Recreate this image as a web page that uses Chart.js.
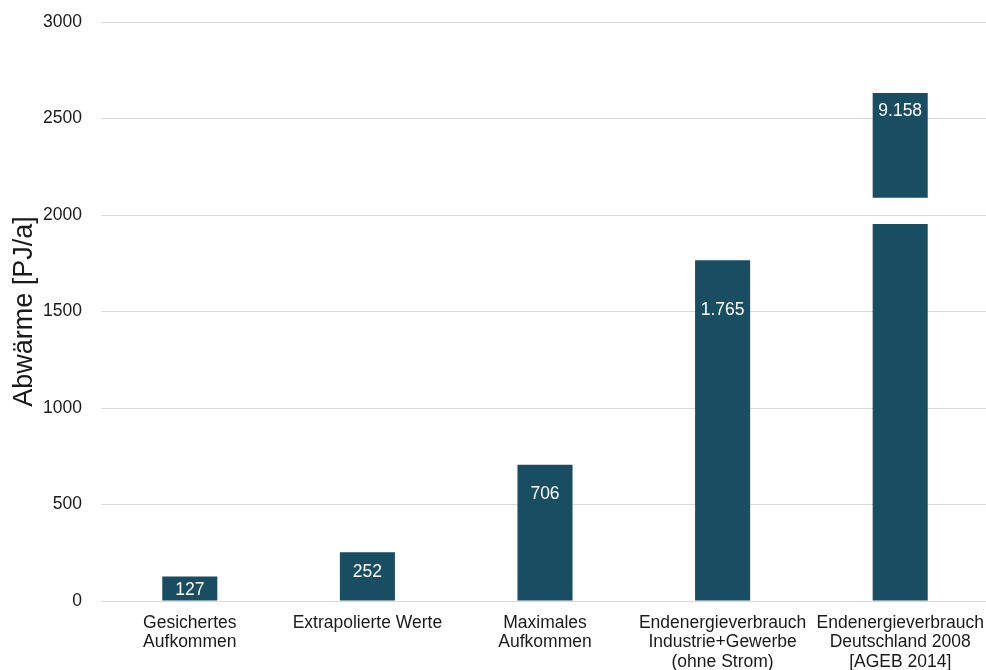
<!DOCTYPE html>
<html lang="de">
<head>
<meta charset="utf-8">
<title>Abwärme</title>
<script src="https://cdn.jsdelivr.net/npm/chart.js@4/dist/chart.umd.min.js"></script>
<style>
  html, body { margin: 0; padding: 0; background: #ffffff; overflow: hidden; }
  #wrap { width: 989px; height: 670px; position: relative; }
</style>
</head>
<body>
<div id="wrap"><canvas id="chart"></canvas></div>
<script>
// Categories (multi-line axis labels)
const categories = [
  ['Gesichertes', 'Aufkommen'],
  ['Extrapolierte Werte'],
  ['Maximales', 'Aufkommen'],
  ['Endenergieverbrauch', 'Industrie+Gewerbe', '(ohne Strom)'],
  ['Endenergieverbrauch', 'Deutschland 2008', '[AGEB 2014]']
];

// Waste heat potential in PJ/a
const values = [127, 252, 706, 1765, 9158];

// Y-axis tick values
const yTicks = [0, 500, 1000, 1500, 2000, 2500, 3000];

// Axis break for bars that exceed the visible range
const breakLow = 1953;   // top of the lower piece
const breakHigh = 2090;  // bottom of the upper piece
const breakCap = 2632;   // top of the upper piece

const BAR_COLOR = '#194d61';
const TEXT_COLOR = '#1a1a1a';
const FONT = '"Liberation Sans", Arial, sans-serif';

const lowerPieces = values.map(v => [0, v > breakCap ? breakLow : v]);
const upperPieces = values.map(v => v > breakCap ? [breakHigh, breakCap] : null);

const fmt = v => String(v).replace(/\B(?=(\d{3})+(?!\d))/g, '.');

// Value labels drawn inside the bars, near the top
const valueLabels = {
  id: 'valueLabels',
  afterDatasetsDraw(chart, args, opts) {
    const ctx = chart.ctx;
    const lower = chart.getDatasetMeta(0).data;
    const upper = chart.getDatasetMeta(1).data;
    ctx.save();
    ctx.fillStyle = '#ffffff';
    ctx.font = '17.5px ' + FONT;
    ctx.textAlign = 'center';
    ctx.textBaseline = 'middle';
    values.forEach((v, i) => {
      const bar = (upperPieces[i] && upper[i]) ? upper[i] : lower[i];
      ctx.fillText(fmt(v), bar.x, bar.y + opts.inset[i]);
    });
    ctx.restore();
  }
};

new Chart(document.getElementById('chart'), {
  type: 'bar',
  data: {
    labels: categories,
    datasets: [
      { data: lowerPieces, backgroundColor: BAR_COLOR, borderWidth: 0 },
      { data: upperPieces, backgroundColor: BAR_COLOR, borderWidth: 0 }
    ]
  },
  options: {
    responsive: true,
    maintainAspectRatio: false,
    animation: false,
    layout: { padding: { top: 22, right: 0, bottom: 0, left: 0 } },
    barPercentage: 0.31,
    categoryPercentage: 1.0,
    plugins: {
      legend: { display: false },
      tooltip: { enabled: false },
      valueLabels: { inset: [14, 20, 29, 50, 18] }
    },
    scales: {
      x: {
        stacked: true,
        grid: { display: false, drawTicks: false },
        border: { display: true, color: '#d9d9d9', width: 1 },
        ticks: {
          color: TEXT_COLOR,
          font: { family: FONT, size: 17.5, lineHeight: 1.12 },
          padding: 12,
          maxRotation: 0,
          autoSkip: false
        },
        afterFit(scale) {
          scale.height = 69;
          scale.paddingLeft = 0;
          scale.paddingRight = 0;
        }
      },
      y: {
        stacked: false,
        min: 0,
        max: 3000,
        afterBuildTicks(scale) { scale.ticks = yTicks.map(v => ({ value: v })); },
        grid: { color: '#d9d9d9', lineWidth: 1, drawTicks: false },
        border: { display: false },
        ticks: {
          color: TEXT_COLOR,
          font: { family: FONT, size: 17.5 },
          padding: 19,
          callback: v => String(v)
        },
        title: {
          display: true,
          text: 'Abwärme [PJ/a]',
          color: TEXT_COLOR,
          font: { family: FONT, size: 27, lineHeight: 1.0 },
          padding: { top: 11, bottom: 0 }
        },
        afterFit(scale) {
          scale.width = 101;
          scale.paddingTop = 0;
          scale.paddingBottom = 0;
        }
      }
    }
  },
  plugins: [valueLabels]
});
</script>
</body>
</html>
